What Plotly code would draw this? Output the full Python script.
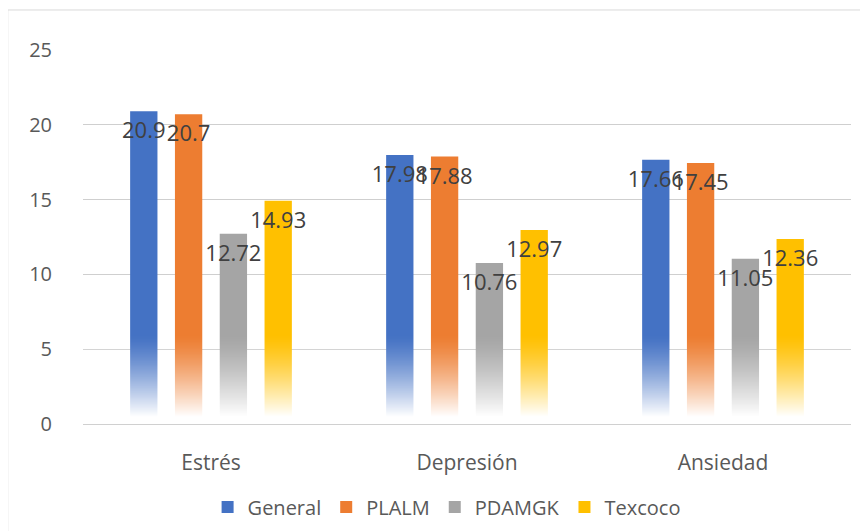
import base64
import struct
import zlib

import plotly.graph_objects as go

CATEGORIES = ["Estrés", "Depresión", "Ansiedad"]
SERIES = ["General", "PLALM", "PDAMGK", "Texcoco"]
GENERAL = [20.9, 17.98, 17.66]
PLALM = [20.7, 17.88, 17.45]
PDAMGK = [12.72, 10.76, 11.05]
TEXCOCO = [14.93, 12.97, 12.36]
Y_TICKS = [0, 5, 10, 15, 20, 25]

COLORS = ["#4472C4", "#ED7D31", "#A5A5A5", "#FFC000"]
FONT = "'Open Sans', sans-serif"
FADE_TOP = 6.0


def _fade_png(rows=80):
    """1px wide white strip, transparent at top and opaque at bottom."""
    raw = b""
    for i in range(rows):
        v = FADE_TOP * (1 - (i + 0.5) / rows)
        a = min(1.0, 1.12 * (1 - v / FADE_TOP) ** 1.3)
        raw += b"\x00" + bytes([255, 255, 255, int(a * 255)])

    def chunk(tag, data):
        c = tag + data
        return struct.pack(">I", len(data)) + c + struct.pack(">I", zlib.crc32(c) & 0xFFFFFFFF)

    png = b"\x89PNG\r\n\x1a\n"
    png += chunk(b"IHDR", struct.pack(">IIBBBBB", 1, rows, 8, 6, 0, 0, 0))
    png += chunk(b"IDAT", zlib.compress(raw))
    png += chunk(b"IEND", b"")
    return "data:image/png;base64," + base64.b64encode(png).decode()


fig = go.Figure()
for name, vals, col in zip(SERIES, [GENERAL, PLALM, PDAMGK, TEXCOCO], COLORS):
    fig.add_trace(go.Bar(
        x=CATEGORIES, y=vals, name=name,
        marker=dict(color=col, line=dict(width=0)),
        text=[f"{v:g}" for v in vals],
        textposition="inside", insidetextanchor="end", textangle=0,
        insidetextfont=dict(family=FONT, size=22, color="#404040"),
        cliponaxis=False,
        hoverinfo="skip",
    ))

# page body has an 8px margin: figure is 8px short on each side so nothing overflows
fig.update_layout(
    width=860, height=523,
    margin=dict(l=75, r=17, t=42, b=107, autoexpand=False),
    paper_bgcolor="white", plot_bgcolor="white",
    font=dict(family=FONT, size=20, color="#595959"),
    barmode="group", bargap=0.3, bargroupgap=0.39,
    uniformtext=dict(minsize=22, mode="show"),
    showlegend=True,
    legend=dict(
        orientation="h", xref="container", x=0.51, xanchor="center",
        yref="container", y=0.046, yanchor="middle",
        font=dict(size=20, color="#595959"), traceorder="normal",
    ),
    images=[dict(
        source=_fade_png(), xref="paper", yref="y",
        x=0, y=FADE_TOP, sizex=1, sizey=FADE_TOP,
        sizing="stretch", layer="above",
    )],
    shapes=[dict(
        type="rect", xref="paper", yref="paper",
        x0=-0.098, x1=1.2, y0=-0.4, y1=1.107,
        line=dict(color="#d9d9d9", width=1), layer="below",
    )],
)
fig.update_xaxes(
    showgrid=False, showline=True, linecolor="#d0d0d0", linewidth=1,
    ticks="", ticklabelstandoff=20, tickfont=dict(size=21), automargin=False,
)
fig.update_yaxes(
    range=[0, 25], tickvals=Y_TICKS, showgrid=True, gridcolor="#cfcfcf",
    gridwidth=1, zeroline=False, showline=False, ticks="",
    ticklabelstandoff=30, automargin=False,
)

fig.write_html("out.html")
